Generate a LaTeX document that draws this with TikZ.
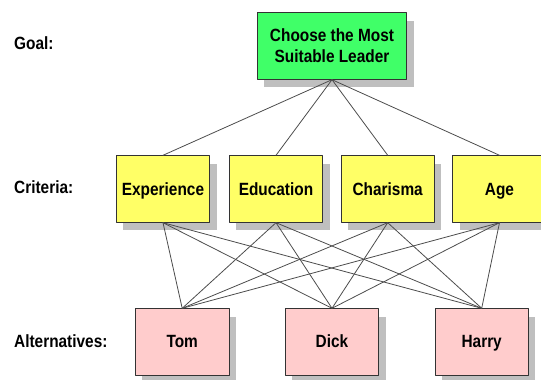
\documentclass[tikz,border=0pt]{standalone}
\usepackage{fontspec}
\setmainfont{Liberation Sans}[FakeStretch=0.87]
\usetikzlibrary{shadows}
\definecolor{goalgreen}{RGB}{64,255,104}
\definecolor{crityellow}{RGB}{255,255,102}
\definecolor{altpink}{RGB}{255,204,204}
\begin{document}
\begin{tikzpicture}[x=1pt, y=1pt, font=\bfseries\fontsize{17.7}{21.3}\selectfont, line join=round, line cap=round,
		box/.style={draw=black!80, line width=0.9pt, inner sep=0pt, align=center, minimum height=66.5pt,
			drop shadow={shadow xshift=7pt, shadow yshift=-8pt, fill=black!25, opacity=1}},
		critbox/.style={box, fill=crityellow, minimum width=93.5pt, text height=12.5pt, text depth=0pt},
		altbox/.style={box, fill=altpink, minimum width=93.5pt, text height=12pt, text depth=0pt},
		level/.style={anchor=base west, inner sep=0pt},
		link/.style={draw=black!70, line width=0.8pt}]
		\useasboundingbox (0,0) rectangle (541,380);
		% levels
		\node[level] (lgoal) at (14,330) {Goal:};
		\node[level] (lcrit) at (14,186.7) {Criteria:};
		\node[level] (lalt) at (14,32.7) {Alternatives:};
		% goal
		\node[box, fill=goalgreen, minimum width=149.5pt] (goal) at (332,334) {Choose the Most\\Suitable Leader};
		% criteria
		\node[critbox] (exp) at (163,191) {Experience};
		\node[critbox] (edu) at (276,191) {Education};
		\node[critbox] (cha) at (387.7,191) {Charisma};
		\node[critbox] (age) at (499.5,191) {Age};
		% alternatives
		\node[altbox] (tom) at (182.2,38) {Tom};
		\node[altbox] (dick) at (332,38) {Dick};
		\node[altbox] (harry) at (481.7,38) {Harry};
		% links
		\foreach \c in {exp,edu,cha,age}{
			\draw[link] (goal.south) -- (\c.north);
			\foreach \a in {tom,dick,harry}
				\draw[link] (\c.south) -- (\a.north);
		}
\end{tikzpicture}
\end{document}
